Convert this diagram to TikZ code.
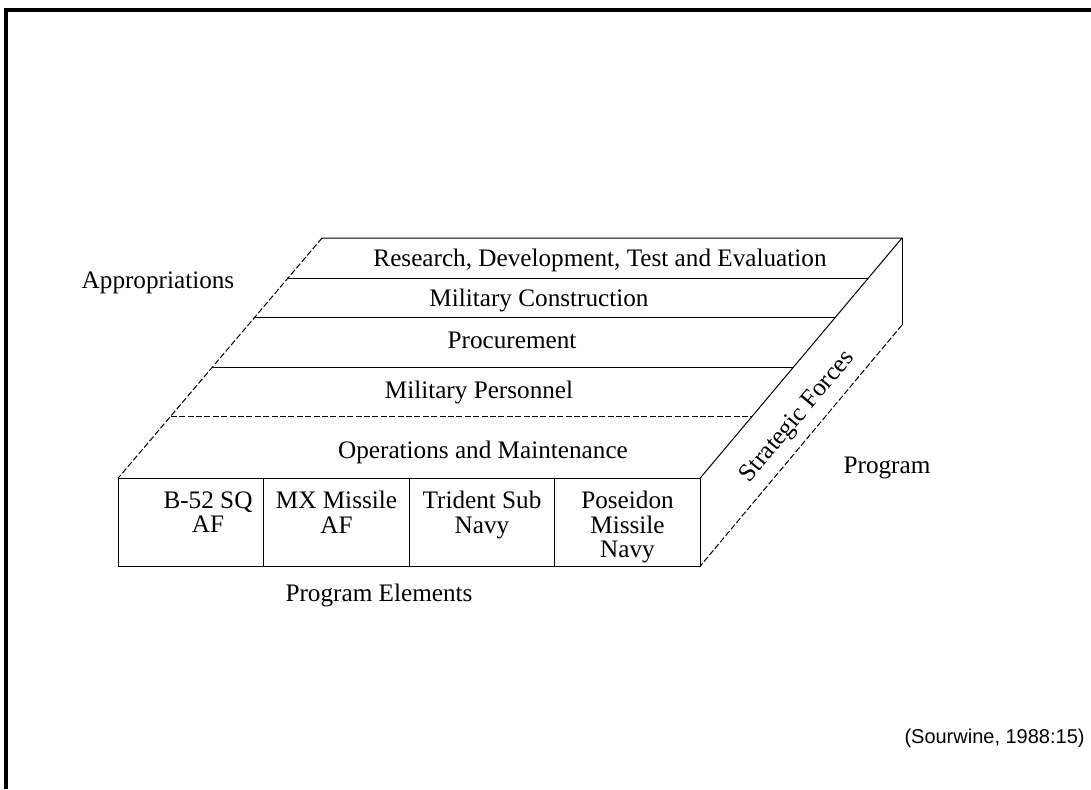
\documentclass[tikz,border=0pt]{standalone}
\usepackage{fontspec}
\setmainfont{Liberation Serif}
\setsansfont{Liberation Sans}
\usetikzlibrary{positioning, calc}
\tikzset{
  edge/.style={draw=black, line width=0.5pt},
  faint/.style={edge, dash pattern=on 3pt off 1.2pt},
  cell/.style={draw, line width=0.5pt, minimum width=72.75pt, minimum height=44pt,
               inner sep=0pt, outer sep=0pt},
  rowtext/.style={font=\fontsize{12.6}{12.2}\selectfont, inner sep=0pt},
  celltext/.style={rowtext, align=center, anchor=north},
  frame/.style={line width=1.6pt},
}

\begin{document}
\begin{tikzpicture}[x=0.5pt, y=-0.5pt]
\useasboundingbox (0,0) rectangle (1091,789);

%% ====================  FRAME  ====================

\draw[frame] (6,789) -- (6,10) -- (1091,10);

%% ====================  BLOCK  ====================

\coordinate (tl) at (322,238);
\coordinate (tr) at (902,238);
\coordinate (br) at (902,325);

\node[cell] (b52) at (191,522) {};
\node[cell, right=0pt of b52] (mx) {};
\node[cell, right=0pt of mx] (trident) {};
\node[cell, right=0pt of trident] (poseidon) {};

\draw[edge] (tl) -- (tr) -- (poseidon.north east);
\draw[faint] (tl) -- (b52.north west);
\draw[edge] (tr) -- (br);
\draw[faint] (br) -- (poseidon.south east);

%% appropriation rows
\foreach \f in {0.167, 0.333, 0.538}
  \draw[edge] ($(tl)!\f!(b52.north west)$) -- ($(tr)!\f!(poseidon.north east)$);
\draw[faint] ($(tl)!0.742!(b52.north west)$) -- ($(tr)!0.742!(poseidon.north east)$);

%% ====================  LABELS  ====================

\node[rowtext] (rdte) at (600,260) {Research, Development, Test and Evaluation};
\node[rowtext] (milcon) at (539,300) {Military Construction};
\node[rowtext] (proc) at (512,340) {Procurement};
\node[rowtext] (milpers) at (479,392) {Military Personnel};
\node[rowtext] (om) at (483,452) {Operations and Maintenance};
\node[rowtext] (approp) at (158,283) {Appropriations};

\node[celltext, below=6.5pt of b52.north, xshift=8.5pt] (b52_txt) {B-52 SQ\\AF};
\node[celltext, below=6.5pt of mx.north] (mx_txt) {MX Missile\\AF};
\node[celltext, below=6.5pt of trident.north] (trident_txt) {Trident Sub\\Navy};
\node[celltext, below=6.5pt of poseidon.north] (poseidon_txt) {Poseidon\\Missile\\Navy};

\node[rowtext] (elements) at (379,595) {Program Elements};
\node[rowtext, rotate=50] (strategic) at (798,417) {Strategic Forces};
\node[rowtext] (program) at (887,468) {Program};

\node[font=\sffamily\fontsize{10}{12}\selectfont, anchor=east, inner sep=0pt] (source)
  at (1085,738) {(Sourwine, 1988:15)};

\end{tikzpicture}
\end{document}
